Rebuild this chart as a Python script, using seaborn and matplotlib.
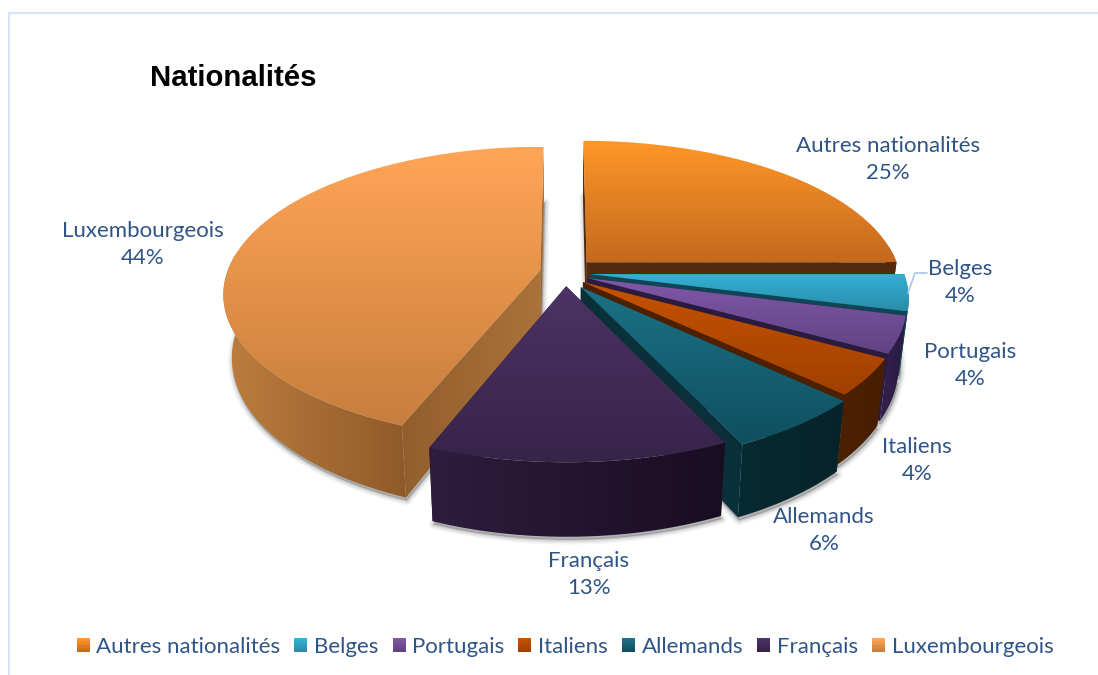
import numpy as np
import matplotlib
matplotlib.use("Agg")
import matplotlib.pyplot as plt
import seaborn as sns
from matplotlib.patches import Polygon, Rectangle
from matplotlib.legend_handler import HandlerPatch
from matplotlib.lines import Line2D

# ---- data
nationalites = ["Autres nationalités", "Belges", "Portugais", "Italiens",
                "Allemands", "Français", "Luxembourgeois"]
parts = [25, 4, 4, 4, 6, 13, 44]

# ---- colours
top_light = ["#ff9628", "#33b2d6", "#8058a8", "#c65200", "#1b7286", "#4c3364", "#ffa556"]
top_dark = ["#c46a1e", "#2a8ca8", "#614282", "#a04000", "#0f4f5f", "#372449", "#c87e3e"]
wall_left = ["#542a0c", "#0f4656", "#33214f", "#4d2000", "#082a33", "#2e1d3e", "#bd7e3e"]
wall_right = ["#542a0c", "#0f4656", "#2a1b40", "#481e00", "#07232a", "#190d22", "#8f5a2a"]
cut_left = ["#542a0c", "#0f4656", "#2a1b40", "#4d2000", "#0a303a", "#2e1d3e", "#925e2d"]
cut_right = ["#542a0c", "#0f4656", "#2a1b40", "#4d2000", "#0a303a", "#2e1d3e", "#ab733b"]
text_col = "#2f5486"

# ---- layout of the exploded slices on the pie plane
shift_u = [0.076, 0.086, 0.076, 0.063, 0.056, 0.010, -0.072]
shift_v = [0.103, 0.020, -0.007, -0.035, -0.070, -0.063, 0.048]
label_xy = [(888, 159.5), (960, 282.5), (970, 365.5), (917, 460.5), (824, 530.5), (589, 574.5), (143, 244.5)]
CX, CY, RX, RY, PERSP, DEPTH, SHRINK = 563.0, 277.0, 315.0, 145.0, 0.158, 62.0, 0.975

sns.set_theme(style="white")
plt.rcParams["font.family"] = ["Lato", "DejaVu Sans"]

fig = plt.figure(figsize=(10.98, 6.75), dpi=100, facecolor="white")
ax = fig.add_axes([0, 0, 1, 1])


def project(u, v, lower=False):
    s = 1.0 / (1.0 + PERSP * v)
    x = CX + RX * u * s
    y = CY - RY * v * s
    if lower:
        x = CX + (x - CX) * SHRINK
        y = y + DEPTH * s
    return x, y


def gradient_fill(px, py, first, second, z, vertical=False):
    """Fill a polygon with a two-colour gradient, through a clipped image."""
    grad = np.array(sns.blend_palette([first, second], 128))[:, :3]
    grad = grad[:, None, :] if vertical else grad[None, :, :]
    im = ax.imshow(grad, extent=[px.min(), px.max(), py.max(), py.min()],
                   aspect="auto", zorder=z, interpolation="bilinear", origin="upper")
    clip = Polygon(np.c_[px, py], closed=True, transform=ax.transData,
                   facecolor="none", edgecolor="none")
    ax.add_patch(clip)
    im.set_clip_path(clip)


edges = np.cumsum([0] + parts) / sum(parts) * 2 * np.pi
order = [6, 0, 1, 2, 3, 4, 5]

for i in order:
    th = np.linspace(edges[i], edges[i + 1], max(8, parts[i] * 3))
    du, dv = shift_u[i], shift_v[i]
    u = np.r_[du, du + np.sin(th)]
    v = np.r_[dv, dv + np.cos(th)]
    x, y = project(u, v, lower=True)
    pts = np.c_[x, y]
    for lw, a in zip([7, 5, 3, 1.5], [0.035, 0.05, 0.06, 0.08]):
        ax.add_patch(Polygon(pts + [1, 3], closed=True, facecolor=(0, 0, 0, a),
                             edgecolor=(0, 0, 0, a), lw=lw, zorder=1,
                             joinstyle="round"))

z = 2
for i in order:
    th = np.linspace(edges[i], edges[i + 1], max(30, parts[i] * 8))
    du, dv = shift_u[i], shift_v[i]
    u, v = du + np.sin(th), dv + np.cos(th)
    xt, yt = project(u, v)
    xb, yb = project(u, v, lower=True)
    ax_, ay_ = project(du, dv)
    bx_, by_ = project(du, dv, lower=True)

    # cut faces (behind the outer wall)
    for k in (0, -1):
        gradient_fill(np.array([ax_, xt[k], xb[k], bx_]), np.array([ay_, yt[k], yb[k], by_]),
                      cut_left[i], cut_right[i], z)
        z += 1

    # outer wall, front-facing part only
    front = np.cos(th) <= 0.12
    if front.sum() > 1:
        gradient_fill(np.r_[xt[front], xb[front][::-1]], np.r_[yt[front], yb[front][::-1]],
                      wall_left[i], wall_right[i], z)
    z += 1

    # top with vertical gradient
    gradient_fill(np.r_[ax_, xt], np.r_[ay_, yt], top_light[i], top_dark[i], z, vertical=True)
    z += 1

# slice labels
for name, val, (lx, ly) in zip(nationalites, parts, label_xy):
    ax.text(lx, ly, f"{name}\n{val}%", ha="center", va="center", color=text_col,
            fontsize=16, linespacing=1.45, zorder=200)

# leader line for Belges
ax.plot([908, 915, 927], [293, 273, 273], color="#a9c5e6", lw=1.2, zorder=199)


# legend with gradient swatches
class GradientHandler(HandlerPatch):
    def create_artists(self, legend, orig, xd, yd, w, h, fs, trans):
        side = w
        y0 = -yd + (h - side) / 2
        n = 10
        pal = sns.blend_palette([orig.get_facecolor(), orig.get_edgecolor()], n)
        return [Rectangle((-xd, y0 + side * (n - 1 - j) / n), side, side / n + 0.2,
                          facecolor=pal[j], edgecolor="none", transform=trans)
                for j in range(n)]


handles = [Rectangle((0, 0), 1, 1, facecolor=l, edgecolor=d)
           for l, d in zip(top_light, top_dark)]
leg = ax.legend(handles, nationalites, ncol=7, frameon=False,
                handler_map={Rectangle: GradientHandler()},
                loc="center", bbox_to_anchor=(565 / 1098, 1 - 647 / 675),
                fontsize=16, labelcolor=text_col, handlelength=0.585,
                handletextpad=0.3, columnspacing=0.63, borderpad=0)
leg.set_zorder(200)

ax.text(150, 78, "Nationalités", family="Liberation Sans", fontweight="bold",
        fontsize=21.2, color="black", ha="left", va="center", zorder=200)

ax.set_xlim(0, 1098)
ax.set_ylim(675, 0)
ax.axis("off")

# chart-area frame, cut by the right and bottom of the picture
for xs, ys in [((8.5, 8.5), (12.5, 675)), ((8.5, 1098), (12.5, 12.5))]:
    fig.add_artist(Line2D(np.array(xs) / 1098, 1 - np.array(ys) / 675,
                          color="#d6e4f3", lw=1.5))

fig.savefig("out.png", dpi=100, facecolor="white")
